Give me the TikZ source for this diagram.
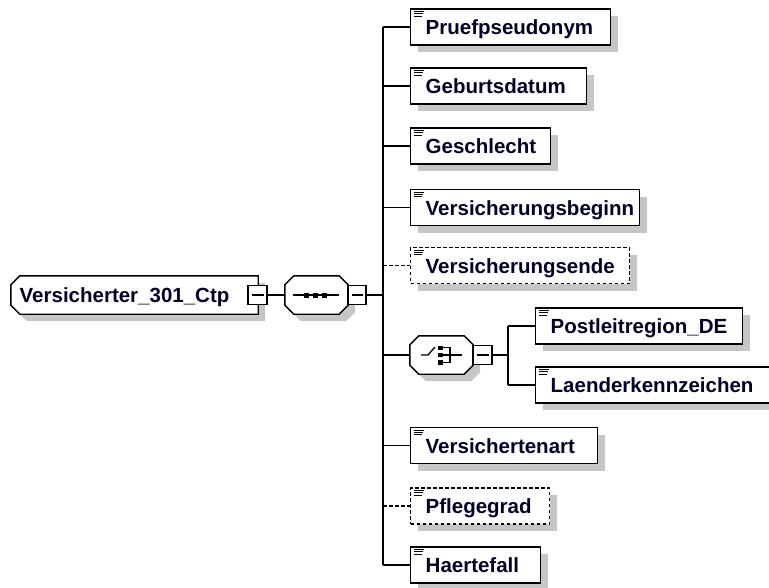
\documentclass[tikz,border=0pt]{standalone}
\usepackage{fontspec}
\setmainfont{Liberation Sans}
\usetikzlibrary{calc,shadows}
\definecolor{shadowgray}{RGB}{198,198,198}
\definecolor{textc}{RGB}{0,0,40}
\tikzset{
  base/.style={line width=1.4pt, draw=black},
  shad/.style={drop shadow={shadow xshift=7pt, shadow yshift=-7pt, fill=shadowgray, opacity=1}},
  elem/.style={base, fill=white, shad, rectangle, inner sep=0pt},
  optelem/.style={elem, dash pattern=on 3.5pt off 2.5pt},
  conn/.style={line width=1.4pt},
  optconn/.style={conn, dash pattern=on 3.5pt off 2.5pt},
  lbl/.style={font=\fontsize{20.5}{24}\selectfont\bfseries, text=textc, inner sep=0pt},
  minusbox/.style={base, fill=white, rectangle, inner sep=0pt, minimum width=19, minimum height=19,
    path picture={\draw[line width=1.2pt] ([xshift=3.5pt]path picture bounding box.west) -- ([xshift=-3.5pt]path picture bounding box.east);}},
  icon/.style={line width=1pt},
  hold/.style={rectangle, inner sep=0pt},
  sym/.style={line width=1.3pt},
}
\newcommand\xelem[6]{%
  \node[#2, minimum width={#4-#3}, minimum height=36, anchor=west] (#1) at (#3,#5) {};
  \draw[icon] ($(#1.north west)+(3.5,3.3)$) -- +(10,0)
              ($(#1.north west)+(3.5,5.5)$) -- +(9,0)
              ($(#1.north west)+(3.5,7.7)$) -- +(8,0);
  \node[lbl, anchor=base west] (#1-t) at ($(#1.west)+(15.5,7.5)$) {#6};
}
\newcommand\xoct[1]{%
  \draw[base, fill=white, shad] ($(#1.north west)+(0,9)$) -- ($(#1.north west)+(9,0)$)
    -- ($(#1.north east)+(-9,0)$) -- ($(#1.north east)+(0,9)$)
    -- ($(#1.south east)+(0,-9)$) -- ($(#1.south east)+(-9,0)$)
    -- ($(#1.south west)+(9,0)$) -- ($(#1.south west)+(0,-9)$) -- cycle;
}
\begin{document}
\begin{tikzpicture}[x=1pt,y=-1pt]
\useasboundingbox (0,0) rectangle (769,587);
\clip (0,0) rectangle (769,587);

% root element
\node[hold, minimum width=247, minimum height=38] (root) at (134.5,295) {};
\draw[base, fill=white, shad] ($(root.north west)+(0,9)$) -- ($(root.north west)+(9,0)$)
  -- (root.north east) -- (root.south east) -- ($(root.south west)+(9,0)$)
  -- ($(root.south west)+(0,-9)$) -- cycle;
\node[lbl, anchor=base west] (roott) at (19.5,302.5) {Versicherter\_301\_Ctp};
\node[minusbox] (rootm) at (257.5,295) {};

% sequence compositor
\node[hold, minimum width=63, minimum height=38] (seq) at (316.5,295) {};
\xoct{seq}
\begin{scope}[shift={(seq.center)}]
  \draw[sym] (-24,0) -- (22,0);
  \fill (-12.5,-2.5) rectangle (-7.5,2.5);
  \fill (-4,-2.5) rectangle (1,2.5);
  \fill (5,-2.5) rectangle (10,2.5);
\end{scope}
\node[minusbox, minimum width=18] (seqm) at (357,295) {};
\draw[conn] (rootm.east) -- (seq.west);
\coordinate (trunk) at (383,295);
\draw[conn] (seqm.east) -- (trunk);

% elements
\xelem{pruef}{elem}{410}{610}{27}{Pruefpseudonym}
\xelem{geburt}{elem}{410}{586}{86}{Geburtsdatum}
\xelem{geschl}{elem}{410}{550}{146}{Geschlecht}
\xelem{vbeg}{elem}{410}{639}{207.5}{Versicherungsbeginn}
\xelem{vend}{optelem}{410}{629}{265.5}{Versicherungsende}
\xelem{vart}{elem}{410}{597}{445.5}{Versichertenart}
\xelem{pflege}{optelem}{410}{549}{506}{Pflegegrad}
\xelem{haerte}{elem}{410}{540}{565}{Haertefall}

% choice compositor
\node[hold, minimum width=63, minimum height=38] (choice) at (441.5,355) {};
\xoct{choice}
\begin{scope}[shift={(choice.center)}]
  \draw[sym] (-20.5,0) -- (-13.5,0) -- (-6.5,-8);
  \fill (-3.5,-9.5) rectangle (1,-5);
  \fill (-3.5,-2.25) rectangle (1,2.25);
  \fill (-3.5,5) rectangle (1,9.5);
  \draw[sym] (1,-7.25) -- (8.5,-7.25) -- (8.5,7.25) -- (1,7.25);
  \draw[sym] (1,0) -- (20,0);
\end{scope}
\node[minusbox] (choicem) at (482.5,355) {};
\coordinate (ctrunk) at (508,355);
\draw[conn] (choicem.east) -- (ctrunk);

\xelem{plz}{elem}{535}{742}{326}{Postleitregion\_DE}
\xelem{laender}{elem}{535}{778}{385}{Laenderkennzeichen}

% trunks and branches
\draw[conn] (pruef.west -| trunk) -- (haerte.west -| trunk);
\draw[conn] (pruef.west -| trunk) -- (pruef.west);
\draw[conn] (geburt.west -| trunk) -- (geburt.west);
\draw[conn] (geschl.west -| trunk) -- (geschl.west);
\draw[conn] (vbeg.west -| trunk) -- (vbeg.west);
\draw[optconn] (vend.west -| trunk) -- (vend.west);
\draw[conn] (choice.west -| trunk) -- (choice.west);
\draw[conn] (vart.west -| trunk) -- (vart.west);
\draw[optconn] (pflege.west -| trunk) -- (pflege.west);
\draw[conn] (haerte.west -| trunk) -- (haerte.west);

\draw[conn] (plz.west -| ctrunk) -- (laender.west -| ctrunk);
\draw[conn] (plz.west -| ctrunk) -- (plz.west);
\draw[conn] (laender.west -| ctrunk) -- (laender.west);
\end{tikzpicture}
\end{document}
